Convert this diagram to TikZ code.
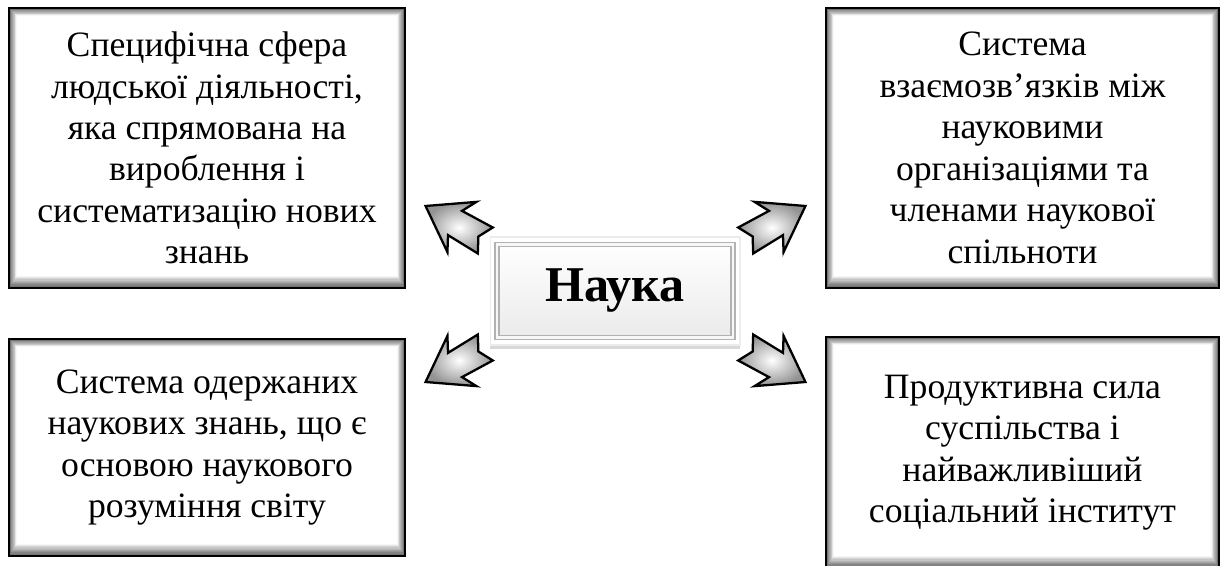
\documentclass[tikz,border=0pt]{standalone}
\usepackage{fontspec}
\setmainfont{Liberation Serif}
\usetikzlibrary{shadows}

\tikzset{
  infobox/.style={rectangle, draw=black, line width=1.3pt, align=center, inner sep=0pt,
    font=\fontsize{20.3}{23.6}\selectfont,
    path picture={
      \foreach \i [evaluate=\i as \g using int(62-6.5*\i)] in {0,...,9}{
        \fill[black!\g] ([shift={(\i*0.45pt,\i*0.7pt)}]path picture bounding box.south west)
          rectangle ([shift={(-\i*0.45pt,-\i*0.45pt)}]path picture bounding box.north east);
      }
      \fill[white] ([shift={(4.5pt,7pt)}]path picture bounding box.south west)
        rectangle ([shift={(-4.5pt,-4.5pt)}]path picture bounding box.north east);
    }},
  blockarrow/.pic={
    \shadedraw[draw=black, line width=1.3pt, line join=miter, inner color=white, outer color=gray!85]
      (-35,15) -- (0,14) -- (-8,29) -- (34,0) -- (-8,-29) -- (0,-14) -- (-35,-15) -- (-27,0) -- cycle;
  }
}

\begin{document}
\begin{tikzpicture}[x=0.02cm,y=0.02cm]
  \useasboundingbox (0,0) rectangle (1224,565);

  % four boxes
  \node[infobox, minimum width=7.92cm, minimum height=5.6cm] (sphere) at (207,417)
    {Специфічна сфера\\людської діяльності,\\яка спрямована на\\вироблення і\\систематизацію нових\\знань};
  \node[infobox, minimum width=7.86cm, minimum height=5.6cm] (links) at (1022.5,417)
    {Система\\взаємозв’язків між\\науковими\\організаціями та\\членами наукової\\спільноти};
  \node[infobox, minimum width=7.92cm, minimum height=4.34cm] (knowledge) at (207,117.5)
    {Система одержаних\\наукових знань, що є\\основою наукового\\розуміння світу};
  \node[infobox, minimum width=7.86cm, minimum height=4.62cm] (force) at (1022.5,112.5)
    {Продуктивна сила\\суспільства і\\найважливіший\\соціальний інститут};

  % centre
  \node[rectangle, fill=white, draw=gray!15, line width=0.6pt, minimum width=5cm, minimum height=2.16cm,
    drop shadow={shadow xshift=0pt, shadow yshift=-2.5pt, opacity=0.3, fill=gray}] (frame) at (615,274) {};
  \node[rectangle, top color=white, bottom color=gray!16, draw=gray!60, line width=1pt,
    double=gray!6, double distance=1.2pt,
    minimum width=4.72cm, minimum height=1.86cm,
    font=\fontsize{28.5}{32}\selectfont\bfseries] (nauka) at (frame.center) {Наука};

  % arrows
  \pic (arrTL) [rotate=150] at (455,342) {blockarrow};
  \pic (arrTR) [rotate=30] at (776,342) {blockarrow};
  \pic (arrBL) [rotate=210] at (455,200) {blockarrow};
  \pic (arrBR) [rotate=-30] at (776,200) {blockarrow};
\end{tikzpicture}
\end{document}
